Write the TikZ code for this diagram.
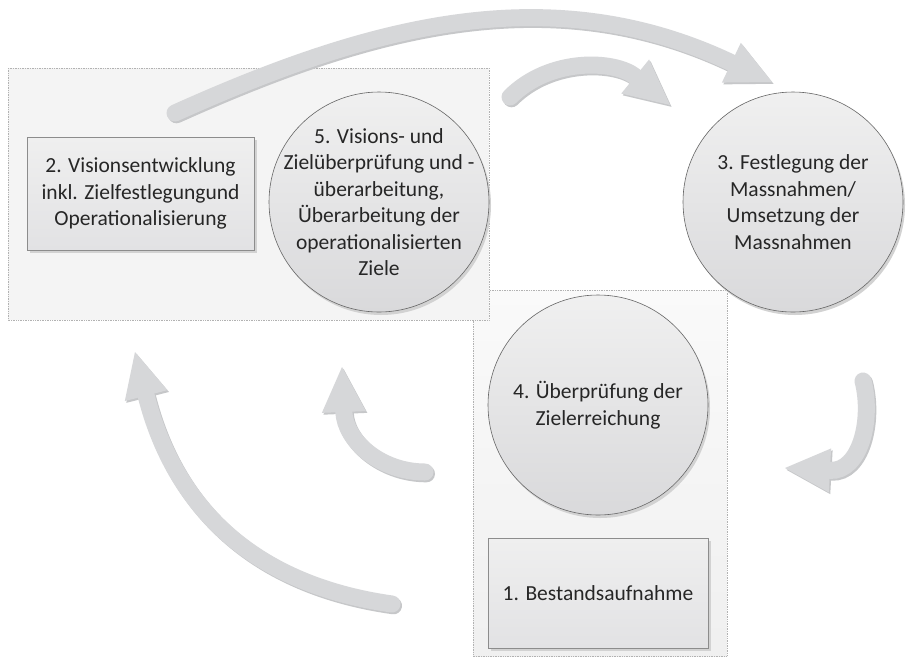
\documentclass[tikz,border=0pt]{standalone}
\usepackage{fontspec}
\setmainfont{Carlito}
\usetikzlibrary{arrows.meta}
\definecolor{arr}{HTML}{D6D7D9}
\definecolor{arrsh}{HTML}{C6C7C9}
\definecolor{txtc}{HTML}{262626}
\definecolor{shapetop}{HTML}{F0F0F0}
\definecolor{shapebot}{HTML}{D9D9DB}
\definecolor{boxtop}{HTML}{EFEFEF}
\definecolor{boxbot}{HTML}{E2E2E4}
\definecolor{shadowc}{HTML}{D2D2D2}
\newcommand\flowarrow[1]{%
  \draw[arrowsh, transform canvas={shift={(1.5pt,-1.8pt)}}] #1;
  \draw[arrowmain] #1;}
\begin{document}
\begin{tikzpicture}[x=1pt,y=-1pt,
  panel/.style={draw=black!30, densely dotted, line width=0.7pt},
  circ/.style={circle, minimum size=220pt, inner sep=0pt, draw=black!60, line width=0.6pt, top color=shapetop, bottom color=shapebot},
  circsh/.style={circle, minimum size=220pt, inner sep=0pt, fill=shadowc},
  boxn/.style={rectangle, inner sep=0pt, draw=black!45, line width=0.6pt, top color=boxtop, bottom color=boxbot},
  txt/.style={align=center, text=txtc, font=\fontsize{21.5}{26.5}\selectfont, inner sep=0pt},
  arrowmain/.style={draw=arr, line width=17pt, line cap=round, -{Triangle[length=45pt,width=44pt,line width=0pt]}},
  arrowsh/.style={draw=arrsh, line width=17pt, line cap=round, -{Triangle[length=45pt,width=44pt,line width=0pt]}}
]
\useasboundingbox (0,0) rectangle (907,657);
\fill[white] (0,0) rectangle (907,657);

% panels
\path[panel, top color=white!98!black, bottom color=white!94!black] (473,290) rectangle (727,656);
\path[panel, fill=white!95.5!black] (8,68) rectangle (489,320);

% arrow coordinates
\coordinate (aT) at (175,113); \coordinate (aH) at (772,82);
\coordinate (bT) at (510,97);  \coordinate (bH) at (670,105);
\coordinate (cT) at (863,381); \coordinate (cH) at (785,468);
\coordinate (dT) at (392,604); \coordinate (dH) at (135,352);
\coordinate (eT) at (425,472); \coordinate (eH) at (342,367);

\flowarrow{(aT) .. controls (364,28) and (547,-25) .. (aH)}
\flowarrow{(bT) .. controls (550,57) and (615,60) .. (bH)}
\flowarrow{(cT) .. controls (873,420) and (860,472) .. (cH)}
\flowarrow{(dT) .. controls (243,583) and (172,497) .. (dH)}
\flowarrow{(eT) .. controls (380,472) and (345,440) .. (eH)}

% shadows
\node[circsh] at (381,205) {};
\node[circsh] at (795,205) {};
\node[circsh] at (600,408) {};
\fill[shadowc] (30,140) rectangle (257,253);
\fill[shadowc] (491,541) rectangle (711,651);

% shapes
\node[boxn, minimum width=227pt, minimum height=113pt] (b2) at (140.5,193.5) {};
\node[txt] at (b2) {2. Visionsentwicklung\\inkl. Zielfestlegungund\\Operationalisierung};

\node[circ] (c5) at (379,202) {};
\node[txt] at (c5) {5. Visions- und\\Zielüberprüfung und -\\überarbeitung,\\Überarbeitung der\\operationalisierten\\Ziele};

\node[circ] (c3) at (793,202) {};
\node[txt] at (c3) {3. Festlegung der\\Massnahmen/\\Umsetzung der\\Massnahmen};

\node[circ] (c4) at (598,405) {};
\node[txt] at (c4) {4. Überprüfung der\\Zielerreichung};

\node[boxn, minimum width=220pt, minimum height=110pt] (b1) at (598,593) {};
\node[txt] at (b1) {1. Bestandsaufnahme};
\end{tikzpicture}
\end{document}
